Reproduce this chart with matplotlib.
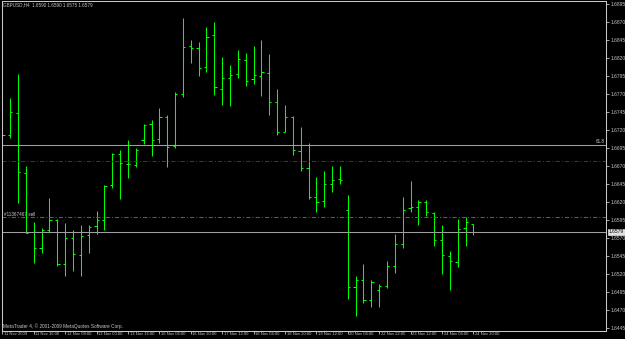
import matplotlib.pyplot as plt
from matplotlib.transforms import blended_transform_factory

# GBPUSD H4 bars, 11 Nov 2009 - 24 Nov 2009
opens = [1.6712, 1.6714, 1.6744, 1.6661, 1.6579, 1.6556, 1.6581, 1.6595, 1.6535, 1.6570,
         1.6547, 1.6575, 1.6587, 1.6596, 1.6644, 1.6687, 1.6673, 1.6672, 1.6707, 1.6729,
         1.6708, 1.6739, 1.6698, 1.6771, 1.6837, 1.6835, 1.6808, 1.6852, 1.6778, 1.6792,
         1.6798, 1.6817, 1.6791, 1.6796, 1.6800, 1.6759, 1.6718, 1.6738, 1.6691, 1.6667,
         1.6628, 1.6622, 1.6645, 1.6653, 1.6609, 1.6502, 1.6512, 1.6484, 1.6498, 1.6504,
         1.6531, 1.6562, 1.6612, 1.6614, 1.6620, 1.6605, 1.6568, 1.6546, 1.6537, 1.6584,
         1.6590]
highs = [1.6751, 1.6765, 1.6798, 1.6670, 1.6592, 1.6584, 1.6626, 1.6597, 1.6591, 1.6582,
         1.6588, 1.6588, 1.6608, 1.6644, 1.6689, 1.6693, 1.6707, 1.6696, 1.6729, 1.6734,
         1.6751, 1.6741, 1.6773, 1.6876, 1.6845, 1.6843, 1.6863, 1.6871, 1.6822, 1.6811,
         1.6831, 1.6828, 1.6837, 1.6845, 1.6826, 1.6778, 1.6755, 1.6740, 1.6725, 1.6703,
         1.6655, 1.6664, 1.6670, 1.6670, 1.6630, 1.6517, 1.6534, 1.6512, 1.6506, 1.6539,
         1.6576, 1.6628, 1.6649, 1.6623, 1.6623, 1.6607, 1.6588, 1.6552, 1.6597, 1.6600,
         1.6590]
lows = [1.6711, 1.6710, 1.6619, 1.6578, 1.6536, 1.6549, 1.6579, 1.6531, 1.6517, 1.6525,
        1.6517, 1.6550, 1.6576, 1.6582, 1.6640, 1.6625, 1.6654, 1.6669, 1.6701, 1.6685,
        1.6703, 1.6669, 1.6696, 1.6766, 1.6813, 1.6795, 1.6801, 1.6769, 1.6755, 1.6754,
        1.6792, 1.6781, 1.6785, 1.6767, 1.6741, 1.6713, 1.6717, 1.6686, 1.6663, 1.6624,
        1.6606, 1.6614, 1.6635, 1.6645, 1.6486, 1.6462, 1.6480, 1.6475, 1.6475, 1.6501,
        1.6522, 1.6557, 1.6607, 1.6588, 1.6601, 1.6559, 1.6520, 1.6498, 1.6530, 1.6559,
        1.6575]
closes = [1.6713, 1.6745, 1.6662, 1.6578, 1.6556, 1.6582, 1.6596, 1.6534, 1.6570, 1.6548,
          1.6573, 1.6586, 1.6596, 1.6642, 1.6687, 1.6675, 1.6673, 1.6692, 1.6728, 1.6707,
          1.6738, 1.6697, 1.6770, 1.6836, 1.6835, 1.6806, 1.6850, 1.6780, 1.6792, 1.6797,
          1.6819, 1.6789, 1.6797, 1.6801, 1.6759, 1.6717, 1.6739, 1.6692, 1.6667, 1.6627,
          1.6621, 1.6645, 1.6651, 1.6651, 1.6503, 1.6512, 1.6484, 1.6509, 1.6504, 1.6531,
          1.6562, 1.6610, 1.6614, 1.6620, 1.6606, 1.6568, 1.6547, 1.6538, 1.6583, 1.6592,
          1.6579]

timeBars = [0, 4, 8, 12, 16, 20, 24, 28, 32, 36, 40, 44, 48, 52, 56, 60]
timeLabels = ['11 Nov 2009', '11 Nov 16:00', '12 Nov 08:00', '13 Nov 00:00',
              '13 Nov 16:00', '16 Nov 04:00', '16 Nov 20:00', '17 Nov 12:00',
              '18 Nov 04:00', '18 Nov 20:00', '19 Nov 12:00', '20 Nov 04:00',
              '22 Nov 22:05', '23 Nov 12:00', '24 Nov 04:00', '24 Nov 20:00']
priceTicks = [1.6895, 1.6870, 1.6845, 1.6820, 1.6795, 1.6770, 1.6745, 1.6720, 1.6695,
              1.6670, 1.6645, 1.6620, 1.6595, 1.6570, 1.6545, 1.6520, 1.6495, 1.6470,
              1.6445]

fiboLevel = 1.6700
stopLevel = 1.6677
orderLevel = 1.6599
bidPrice = 1.6579
header = 'GBPUSD,H4  1.6590 1.6590 1.6575 1.6579'

fontList = ['Liberation Sans', 'DejaVu Sans']
textColor = '#C8C8C8'
barColor = '#00FF00'

fig = plt.figure(figsize=(6.25, 3.39), dpi=100, facecolor='black')
ax = fig.add_axes([2 / 625, 1 - 330.7 / 339, 604 / 625, 329.4 / 339])
ax.set_facecolor('black')

x = list(range(len(opens)))
tick = 0.28
ax.vlines(x, lows, highs, color=barColor, lw=0.75)
ax.hlines(opens, [i - tick for i in x], x, color=barColor, lw=0.75)
ax.hlines(closes, x, [i + tick for i in x], color=barColor, lw=0.75)

# horizontal levels
ax.axhline(fiboLevel, color='#A0A0A0', lw=0.75)
ax.axhline(stopLevel, color='#C00000', lw=0.75, dashes=(4, 2, 1, 2))
ax.axhline(orderLevel, color='#00A000', lw=0.75, dashes=(4, 2, 1, 2))
ax.axhline(bidPrice, color='#A0A0A0', lw=0.75)

ax.set_xlim(-0.05, -0.05 + 604 / 7.85)
ax.set_ylim(1.6895 - 326.4 / 7200, 1.6895 + 3.0 / 7200)

for s in ax.spines.values():
    s.set_color(textColor)
    s.set_linewidth(0.75)

ax.yaxis.tick_right()
ax.set_yticks(priceTicks)
ax.set_yticklabels(['%.4f' % p for p in priceTicks], fontsize=3.5, color=textColor,
                   family=fontList)
ax.tick_params(axis='y', length=2, width=0.6, color=textColor, pad=1)
ax.set_xticks(timeBars)
ax.set_xticklabels([])
ax.tick_params(axis='x', length=2.5, width=0.6, color=textColor)

trans = blended_transform_factory(ax.transData, ax.transAxes)
for b, lab in zip(timeBars, timeLabels):
    ax.text(b + 0.2, -0.0115, lab, transform=trans, fontsize=3.0, color=textColor,
            family=fontList, ha='left', va='center', clip_on=False)

ytrans = blended_transform_factory(ax.transAxes, ax.transData)
ax.text(0.004, orderLevel + 0.00012, '#11367467 sell', transform=ytrans, fontsize=3.3,
        color=textColor, family=fontList, ha='left', va='bottom')
ax.text(0.998, fiboLevel + 0.00012, '61.8', transform=ytrans, fontsize=3.3,
        color=textColor, family=fontList, ha='right', va='bottom')
ax.text(1.005, bidPrice, '%.4f' % bidPrice, transform=ytrans, fontsize=3.5, color='black',
        family=fontList, ha='left', va='center', clip_on=False,
        bbox=dict(boxstyle='square,pad=0.12', facecolor='#E0E0E0', edgecolor='white', lw=0.4))

fig.text(3 / 625, 1 - 5 / 339, header, fontsize=3.3, color=textColor, family=fontList,
         ha='left', va='center')
fig.text(3 / 625, 1 - 326 / 339, 'MetaTrader 4, \u00a9 2001-2009 MetaQuotes Software Corp.',
         fontsize=3.4, color=textColor, family=fontList, ha='left', va='center')

fig.savefig('out.png', dpi=100, facecolor='black')
